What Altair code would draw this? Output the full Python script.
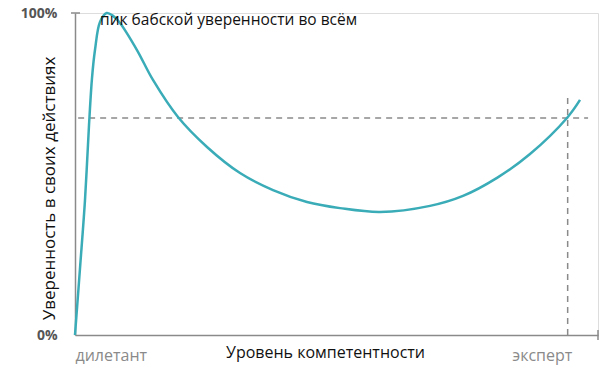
import altair as alt
import pandas as pd

# Curve (competence 0..100, confidence %)
comp = [0, 0.96, 1.91, 2.68, 3.25, 3.82, 4.78, 6.06, 7.27, 8.60, 11.85, 14.91,
        19.69, 25.24, 31.55, 37.86, 44.36, 50.67, 58.32, 67.88, 74.19,
        80.69, 87.0, 94.07, 96.56]
conf = [0, 20.8, 41.9, 65.2, 79.8, 88.5, 97.2, 100, 99.1, 96.9, 88.5, 79.2,
        67.7, 58.4, 50.3, 45.0, 41.3, 39.4, 38.2, 40.1, 43.2,
        48.8, 56.2, 67.4, 73.0]

threshold = 67.4
expert_x = 94.2
hline_x = [0.6, 98.1]
vline_top = 74.5

annotation = "пик бабской уверенности во всём"
x_title = "Уровень компетентности"
y_title = "Уверенность в своих действиях"
x_labels = ["дилетант", "эксперт"]
y_labels = ["0%", "100%"]

GRAY = "#8a8a8a"
TEAL = "#3aacb8"
FONT = "Open Sans"

curve = pd.DataFrame({"x": comp, "y": conf})

xs = alt.Scale(domain=[0, 100], nice=False, zero=False)
ys = alt.Scale(domain=[0, 100], nice=False)

base_x = alt.X("x:Q", scale=xs,
               axis=alt.Axis(values=[0, 95], labelExpr="datum.value == 0 ? '%s' : '%s'" % tuple(x_labels),
                             labelAlign={"condition": {"test": "datum.value == 0", "value": "left"}, "value": "right"},
                             ticks=False, grid=False, domainColor=GRAY, domainWidth=1.5,
                             labelColor=GRAY, labelFontSize=16, labelFont=FONT, labelPadding=12,
                             title=x_title, titleFont=FONT, titleFontSize=16, titleFontWeight="normal",
                             titleColor="#111", titlePadding=-19, titleX=250, titleAlign="center"))
base_y = alt.Y("y:Q", scale=ys,
               axis=alt.Axis(values=[0, 100], labelExpr="datum.value == 0 ? '%s' : '%s'" % tuple(y_labels),
                             ticks=False, grid=False, domainColor=GRAY, domainWidth=1.5,
                             labelColor="#555", labelFontSize=14, labelFontWeight="bold", labelFont=FONT,
                             labelPadding=18,
                             title=y_title, titleFont=FONT, titleFontSize=17, titleFontWeight="normal",
                             titleColor="#111", titleX=-26, titleY=175, titleAngle=-90,
                             titleAlign="center", titleBaseline="middle"))

line = alt.Chart(curve).mark_line(color=TEAL, strokeWidth=2.5, interpolate="catmull-rom").encode(
    x=base_x, y=base_y)

hdf = pd.DataFrame({"x": [hline_x[0]], "x2": [hline_x[1]], "y": [threshold]})
hline = alt.Chart(hdf).mark_rule(color=GRAY, strokeWidth=1.5, strokeDash=[6, 5]).encode(
    x=alt.X("x:Q", scale=xs), x2="x2:Q", y=alt.Y("y:Q", scale=ys))

vdf = pd.DataFrame({"x": [expert_x], "y": [0], "y2": [vline_top]})
vline = alt.Chart(vdf).mark_rule(color=GRAY, strokeWidth=1.5, strokeDash=[6, 5]).encode(
    x=alt.X("x:Q", scale=xs), y=alt.Y("y:Q", scale=ys), y2="y2:Q")

tdf = pd.DataFrame({"y": [100]})
ytick = alt.Chart(tdf).mark_rule(color=GRAY, strokeWidth=1.5).encode(
    x=alt.value(-4), x2=alt.value(5), y=alt.Y("y:Q", scale=ys))

edf = pd.DataFrame({"x": [100]})
xtick = alt.Chart(edf).mark_rule(color=GRAY, strokeWidth=1.5).encode(
    x=alt.X("x:Q", scale=xs), y=alt.value(317), y2=alt.value(327))

adf = pd.DataFrame({"x": [4.8], "y": [100], "t": [annotation]})
ann = alt.Chart(adf).mark_text(align="left", baseline="middle", fontSize=15.5, font=FONT,
                               color="#111", dy=7).encode(
    x=alt.X("x:Q", scale=xs), y=alt.Y("y:Q", scale=ys), text="t:N")

chart = alt.layer(hline, vline, line, ytick, xtick, ann).properties(
    width=523, height=322,
    autosize=alt.AutoSizeParams(type="none"),
    padding={"left": 75, "top": 13, "right": 2, "bottom": 41},
).configure_view(stroke=None).configure(background="white")

chart.save("out.html", embed_options={"renderer": "svg", "actions": False})
